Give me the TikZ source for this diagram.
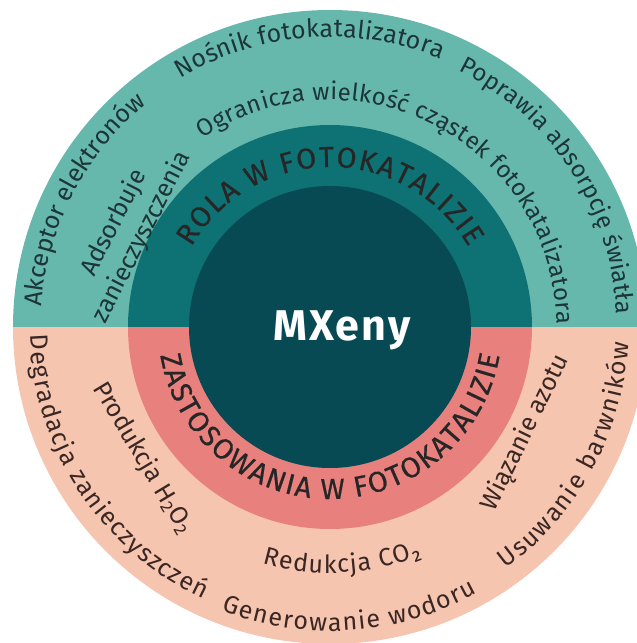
\documentclass[tikz,border=0pt]{standalone}
\usepackage{fontspec}
\setmainfont{Fira Sans}
\newfontfamily\ringfam[FakeBold=0.5]{Fira Sans}
\usetikzlibrary{decorations.text}

\definecolor{tealout}{HTML}{67B8AC}
\definecolor{tealmid}{HTML}{0E7274}
\definecolor{tealin}{HTML}{084A54}
\definecolor{salmonout}{HTML}{F6C5B0}
\definecolor{salmonmid}{HTML}{E8807E}
\definecolor{inkteal}{HTML}{1B3538}
\definecolor{inksalmon}{HTML}{3A2623}

\newcommand{\lblfont}{\fontsize{25}{31}\selectfont}
\newcommand{\lblfontsm}{\fontsize{24}{29}\selectfont}
\newcommand{\ringfont}{\ringfam\fontsize{29}{34}\selectfont}

\tikzset{toplbl/.style={decoration={text along path, text={|\lblfont|#1},
		text align={fit to path}, text color=inkteal}, decorate}}
\tikzset{toplblsm/.style={decoration={text along path, text={|\lblfontsm|#1},
		text align={fit to path}, text color=inkteal}, decorate}}
\tikzset{botlbl/.style={decoration={text along path, text={|\lblfont|#1},
		text align={fit to path}, text color=inksalmon}, decorate}}
\tikzset{ringlbl/.style={decoration={text along path, text={|\ringfont|#1},
		text align={fit to path}, text color=black!85}, decorate}}

\begin{document}
\begin{tikzpicture}[x=1pt, y=1pt]
	\useasboundingbox (-330,-316) rectangle (307,327);
	\clip (-330,-316) rectangle (307,327);
	% halves
	\fill[tealout] (-317,0) arc[start angle=180, end angle=0, radius=317] -- cycle;
	\fill[salmonout] (317,0) arc[start angle=0, end angle=-180, radius=317] -- cycle;
	\fill[tealmid] (-202,0) arc[start angle=180, end angle=0, radius=202] -- cycle;
	\fill[salmonmid] (202,0) arc[start angle=0, end angle=-180, radius=202] -- cycle;
	\fill[tealin] (0,0) circle (141);
	
	\node[text=white, font=\bfseries\fontsize{43}{48}\selectfont\addfontfeatures{LetterSpace=5}, anchor=base] (mxeny) at (12,-13) {MXeny};
	
	% ring texts
	\path[ringlbl={ROLA W FOTOKATALIZIE}] (150:160) arc[start angle=150, end angle=30, radius=160];
	\path[ringlbl={ZASTOSOWANIA W FOTOKATALIZIE}] (189.5:172) arc[start angle=189.5, end angle=350.5, radius=172];
	
	% top labels
	\path[toplbl={Akceptor elektronów}] (176:289) arc[start angle=176, end angle=130, radius=289];
	\path[toplbl={Nośnik fotokatalizatora}] (121:290) arc[start angle=121, end angle=67.5, radius=290];
	\path[toplblsm={Poprawia absorpcję światła}] (63.5:287) arc[start angle=63.5, end angle=2.5, radius=287];
	\path[toplblsm={Ogranicza wielkość cząstek fotokatalizatora}] (124:227) arc[start angle=124, end angle=0.5, radius=227];
	\node[text=inkteal, font=\lblfont, align=center, rotate=63] (adsorb) at (-202,97) {Adsorbuje\\zanieczyszczenia};
	
	% bottom labels
	\path[botlbl={Degradacja zanieczyszczeń}] (181.5:300) arc[start angle=181.5, end angle=245, radius=300];
	\path[botlbl={Generowanie wodoru}] (249:304) arc[start angle=249, end angle=299, radius=304];
	\path[botlbl={Usuwanie barwników}] (306:299) arc[start angle=306, end angle=357, radius=299];
	\path[botlbl={Redukcja CO₂}] (254:246) arc[start angle=254, end angle=292, radius=246];
	\node[text=inksalmon, font=\lblfont, rotate=-59] (h2o2) at (-187,-131) {Produkcja H\textsubscript{2}O\textsubscript{2}};
	\node[text=inksalmon, font=\lblfont, rotate=64] (azot) at (196,-106) {Wiązanie azotu};
\end{tikzpicture}
\end{document}
